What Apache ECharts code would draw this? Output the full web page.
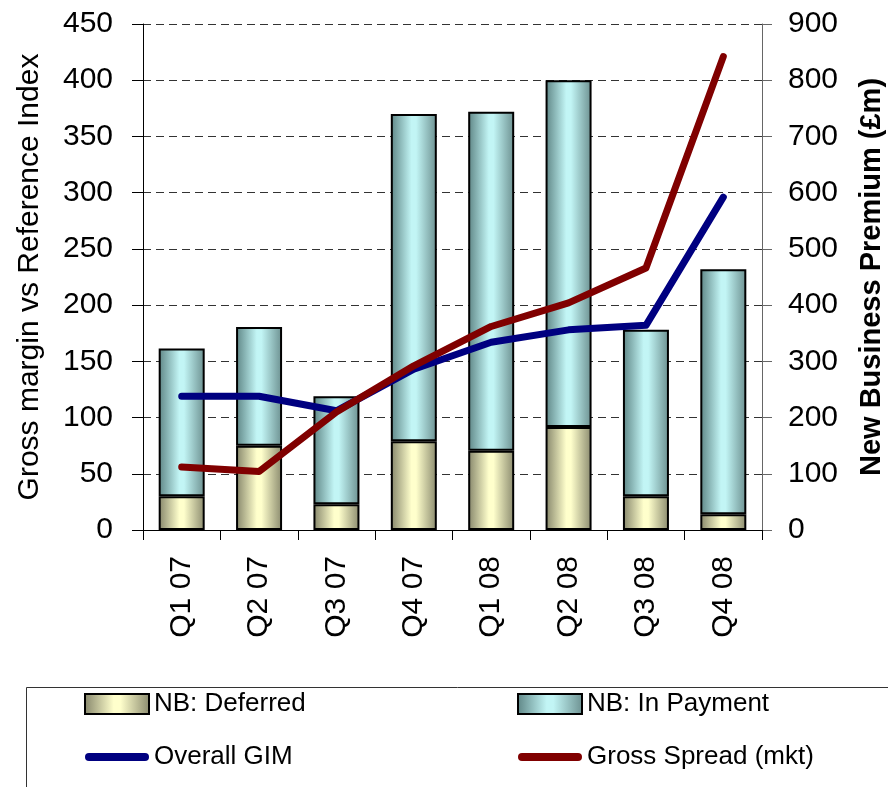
<!DOCTYPE html>
<html>
<head>
<meta charset="utf-8">
<script src="https://cdn.jsdelivr.net/npm/echarts@6/dist/echarts.min.js"></script>
<style>
  html, body { margin: 0; padding: 0; background: #fff; }
  #chart { width: 888px; height: 787px; }
</style>
</head>
<body>
<div id="chart"></div>
<script>
// data
var categories = ["Q1 07", "Q2 07", "Q3 07", "Q4 07", "Q1 08", "Q2 08", "Q3 08", "Q4 08"];
// bars, right axis (£m)
var nbDeferred = [60, 150, 46, 158, 141, 183, 60, 28];
var nbInPayment = [263, 211, 192, 582, 603, 617, 296, 436];
// lines, left axis
var overallGim = [119, 119, 106, 143, 167, 178, 182, 296];
var grossSpread = [56, 52, 105, 146, 181, 202, 233, 421];

var leftTicks = { min: 0, max: 450, interval: 50 };
var rightTicks = { min: 0, max: 900, interval: 100 };

var FONT = "Liberation Sans, Arial, sans-serif";
// thick line with round ends, used as legend icon of the line series
var LINE_ICON = "path://M4,0 L60,0 A4,4 0 0 1 60,8 L4,8 A4,4 0 0 1 4,0 Z";

function barGradient(edgeL, mid, edgeR) {
  return {
    type: "linear", x: 0, y: 0, x2: 1, y2: 0,
    colorStops: [
      { offset: 0, color: edgeL },
      { offset: 0.45, color: mid },
      { offset: 0.55, color: mid },
      { offset: 1, color: edgeR }
    ]
  };
}

var deferredFill = barGradient("#85856a", "#ffffcc", "#8a8a6e");
var paymentFill = barGradient("#5e8585", "#c2f5f5", "#6c9090");

var chart = echarts.init(document.getElementById("chart"));
var legendText = { fontFamily: FONT, fontSize: 26, color: "#000" };
var option = {
  animation: false,
  backgroundColor: "#fff",
  grid: { left: 143, right: 126, top: 24, bottom: 257, outerBoundsMode: "none" },
  legend: [
    {
      left: 79, top: 686, orient: "vertical",
      itemWidth: 64, itemHeight: 20, itemGap: 27,
      textStyle: legendText,
      data: [
        { name: "NB: Deferred", icon: "rect" },
        { name: "Overall GIM", icon: LINE_ICON, itemStyle: { color: "#000080", borderWidth: 0 } }
      ]
    },
    {
      left: 512, top: 686, orient: "vertical",
      itemWidth: 64, itemHeight: 20, itemGap: 27,
      textStyle: legendText,
      data: [
        { name: "NB: In Payment", icon: "rect" },
        { name: "Gross Spread (mkt)", icon: LINE_ICON, itemStyle: { color: "#800000", borderWidth: 0 } }
      ]
    }
  ],
  graphic: [
    {
      type: "rect", left: 24, top: 685,
      shape: { width: 862, height: 120 },
      style: { fill: "none", stroke: "#333", lineWidth: 1 },
      z: -1
    }
  ],
  xAxis: {
    type: "category",
    data: categories,
    axisLine: { lineStyle: { color: "#000", width: 1 } },
    axisTick: { show: true, length: 10, lineStyle: { color: "#000" } },
    axisLabel: {
      rotate: 90, margin: 26, color: "#000",
      fontFamily: FONT, fontSize: 30
    }
  },
  yAxis: [
    {
      type: "value",
      min: leftTicks.min, max: leftTicks.max, interval: leftTicks.interval,
      name: "Gross margin vs Reference Index",
      nameLocation: "middle", nameRotate: 90, nameGap: 98,
      nameTextStyle: { fontFamily: FONT, fontSize: 30, color: "#000" },
      axisLine: { show: true, lineStyle: { color: "#000" } },
      axisTick: { show: true, length: 11, lineStyle: { color: "#000" } },
      axisLabel: { margin: 30, color: "#000", fontFamily: FONT, fontSize: 30 },
      splitLine: {
        show: true,
        lineStyle: { type: [8, 5], color: "#333", width: 1 }
      }
    },
    {
      type: "value",
      min: rightTicks.min, max: rightTicks.max, interval: rightTicks.interval,
      name: "New Business Premium (£m)",
      nameLocation: "middle", nameRotate: 90, nameGap: 95,
      nameTextStyle: { fontFamily: FONT, fontSize: 29, fontWeight: "bold", color: "#000" },
      axisLine: { show: true, lineStyle: { color: "#666" } },
      axisTick: { show: true, length: 10, lineStyle: { color: "#666" } },
      axisLabel: { margin: 26, color: "#000", fontFamily: FONT, fontSize: 30 },
      splitLine: { show: false }
    }
  ],
  series: [
    {
      name: "NB: Deferred",
      type: "bar", stack: "nb", yAxisIndex: 1,
      barWidth: 46,
      itemStyle: { color: deferredFill, borderColor: "#000", borderWidth: 2 },
      data: nbDeferred
    },
    {
      name: "NB: In Payment",
      type: "bar", stack: "nb", yAxisIndex: 1,
      barWidth: 46,
      itemStyle: { color: paymentFill, borderColor: "#000", borderWidth: 2 },
      data: nbInPayment
    },
    {
      name: "Overall GIM",
      type: "line", yAxisIndex: 0,
      symbol: "none",
      lineStyle: { color: "#000080", width: 7, cap: "round", join: "round" },
      itemStyle: { color: "#000080" },
      data: overallGim
    },
    {
      name: "Gross Spread (mkt)",
      type: "line", yAxisIndex: 0,
      symbol: "none",
      lineStyle: { color: "#800000", width: 7, cap: "round", join: "round" },
      itemStyle: { color: "#800000" },
      data: grossSpread
    }
  ]
};
chart.setOption(option);
window.onresize = function () {
  chart.resize();
};
</script>
</body>
</html>
